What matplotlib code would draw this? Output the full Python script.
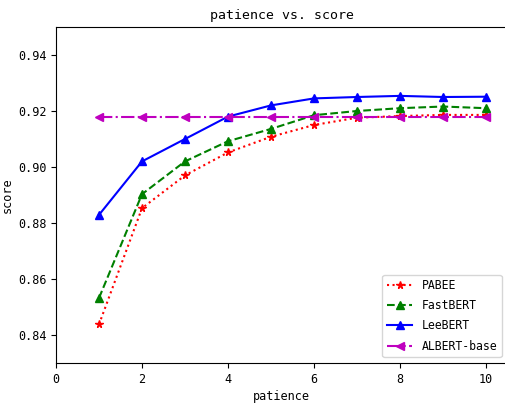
import matplotlib
matplotlib.use("Agg")
from matplotlib import pyplot as plt

patience = [1, 2, 3, 4, 5, 6, 7, 8, 9, 10]
pabee = [0.8438, 0.8853, 0.8970, 0.9052, 0.9108, 0.9150, 0.9176, 0.9182, 0.9186, 0.9186]
fastbert = [0.8532, 0.8903, 0.9020, 0.9092, 0.9136, 0.9185, 0.9200, 0.9210, 0.9216, 0.9210]
leebert = [0.8829, 0.9020, 0.9100, 0.9180, 0.9220, 0.9245, 0.9250, 0.9254, 0.9250, 0.9251]
albert_base = [0.9180] * 10

plt.rcParams['font.family'] = ['DejaVu Sans Mono']
plt.rcParams['font.size'] = 8.5

fig = plt.figure(figsize=(5.06, 4.03), dpi=100)
ax = fig.add_axes([56 / 506, 40 / 403, 451.5 / 506, 336 / 403])

ax.plot(patience, pabee, 'r:*', label='PABEE', markersize=5.5)
ax.plot(patience, fastbert, 'g--^', label='FastBERT', markersize=5.5)
ax.plot(patience, leebert, 'b-^', label='LeeBERT', markersize=5.5)
ax.plot(patience, albert_base, 'm-.<', label='ALBERT-base', markersize=5.5)

ax.set_xlim(0, 10.5)
ax.set_ylim(0.83, 0.95)
ax.set_xticks([0, 2, 4, 6, 8, 10])
ax.set_yticks([0.84, 0.86, 0.88, 0.90, 0.92, 0.94])
ax.set_xlabel('patience', labelpad=3)
ax.set_ylabel('score', labelpad=3)
ax.set_title('patience vs. score', fontsize=9.5)
ax.legend(loc='lower right', fontsize=8.3, labelspacing=0.62, handlelength=2.2)

fig.savefig('out.png', dpi=100)
